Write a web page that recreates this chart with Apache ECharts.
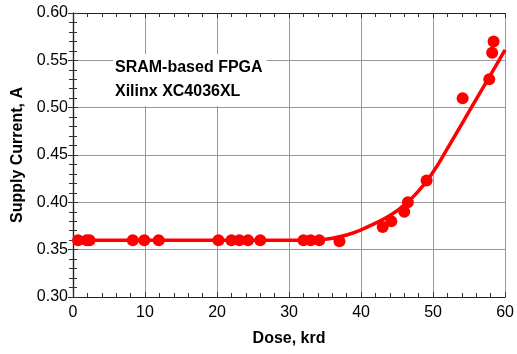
<!DOCTYPE html>
<html>
<head>
<meta charset="UTF-8">
<script src="https://cdn.jsdelivr.net/npm/echarts@6/dist/echarts.min.js"></script>
<style>
  body { margin: 0; background: #fff; }
  #chart { width: 517px; height: 354px; }
</style>
</head>
<body>
<div id="chart"></div>
<script>
// measured points: dose (krd), supply current (A)
const doseMeasured = [0.7, 1.9, 2.3, 8.3, 9.9, 11.9, 20.2, 22.0, 23.1, 24.3, 26.0, 32.0, 33.0, 34.2, 37.0,
                      43.0, 44.2, 46.0, 46.5, 49.1, 54.1, 57.8, 58.2, 58.4];
const currentMeasured = [0.36, 0.36, 0.36, 0.36, 0.36, 0.36, 0.36, 0.36, 0.36, 0.36, 0.36, 0.36, 0.36, 0.36, 0.359,
                         0.374, 0.38, 0.39, 0.40, 0.423, 0.51, 0.53, 0.558, 0.570];
// fitted curve
const doseFit = [0, 30, 32, 34, 36, 38, 40, 42, 44, 46, 48, 50, 52, 54, 56, 58, 60];
const currentFit = [0.36, 0.36, 0.36, 0.3604, 0.362, 0.3655, 0.371, 0.378, 0.386, 0.397, 0.412, 0.432,
                    0.457, 0.483, 0.509, 0.535, 0.561];
const xTicks = [0, 10, 20, 30, 40, 50, 60];
const yTicks = [0.30, 0.35, 0.40, 0.45, 0.50, 0.55, 0.60];

const chart = echarts.init(document.getElementById('chart'));
const font = 'Liberation Sans, Arial, sans-serif';

const frameAxis = {
  axisLine: { show: true, lineStyle: { color: '#222', width: 1.2 } },
  axisTick: { show: true, inside: true, length: 5, lineStyle: { color: '#333' } },
  minorTick: { show: true, splitNumber: 5, length: 4, lineStyle: { color: '#333' } },
  axisLabel: { show: false },
  splitLine: { show: false }
};

chart.setOption({
  animation: false,
  grid: { left: 73, right: 8, top: 13, bottom: 57 },
  title: {
    text: 'SRAM-based FPGA\nXilinx XC4036XL',
    left: 113, top: 54,
    backgroundColor: '#fff',
    padding: [2, 4, 2, 2],
    textStyle: { fontFamily: font, fontSize: 16, fontWeight: 'bold', color: '#000', lineHeight: 24 }
  },
  xAxis: [{
    type: 'value', min: xTicks[0], max: xTicks[xTicks.length - 1], interval: 10,
    name: 'Dose, krd', nameLocation: 'middle', nameGap: 34,
    nameTextStyle: { fontFamily: font, fontSize: 16, fontWeight: 'bold', color: '#000' },
    axisLine: { lineStyle: { color: '#222', width: 1.2 } },
    axisTick: { show: true, inside: true, length: 5, lineStyle: { color: '#333' } },
    minorTick: { show: true, splitNumber: 5, length: 4, lineStyle: { color: '#333' } },
    axisLabel: { fontFamily: font, fontSize: 16, color: '#000', margin: 8 },
    splitLine: { show: true, lineStyle: { color: '#999', width: 1 } }
  }, Object.assign({
    type: 'value', position: 'top', min: xTicks[0], max: xTicks[xTicks.length - 1], interval: 10
  }, frameAxis)],
  yAxis: [{
    type: 'value', min: yTicks[0], max: yTicks[yTicks.length - 1], interval: 0.05,
    name: 'Supply Current, A', nameLocation: 'middle', nameGap: 44,
    nameTextStyle: { fontFamily: font, fontSize: 16, fontWeight: 'bold', color: '#000' },
    axisLine: { show: true, lineStyle: { color: '#222', width: 1.2 } },
    axisTick: { show: true, inside: true, length: 5, lineStyle: { color: '#333' } },
    minorTick: { show: true, splitNumber: 5, length: 4, lineStyle: { color: '#333' } },
    axisLabel: { fontFamily: font, fontSize: 16, color: '#000', margin: 5, formatter: v => v.toFixed(2) },
    splitLine: { show: true, lineStyle: { color: '#999', width: 1 } }
  }, Object.assign({
    type: 'value', position: 'right', min: yTicks[0], max: yTicks[yTicks.length - 1], interval: 0.05
  }, frameAxis)],
  series: [{
    type: 'line',
    data: doseFit.map((d, i) => [d, currentFit[i]]),
    smooth: 0.5,
    showSymbol: false,
    lineStyle: { color: '#ff0000', width: 3.5 },
    z: 2
  }, {
    type: 'scatter',
    data: doseMeasured.map((d, i) => [d, currentMeasured[i]]),
    symbolSize: 12,
    itemStyle: { color: '#ff0000', opacity: 1 },
    z: 3
  }]
});
</script>
</body>
</html>
